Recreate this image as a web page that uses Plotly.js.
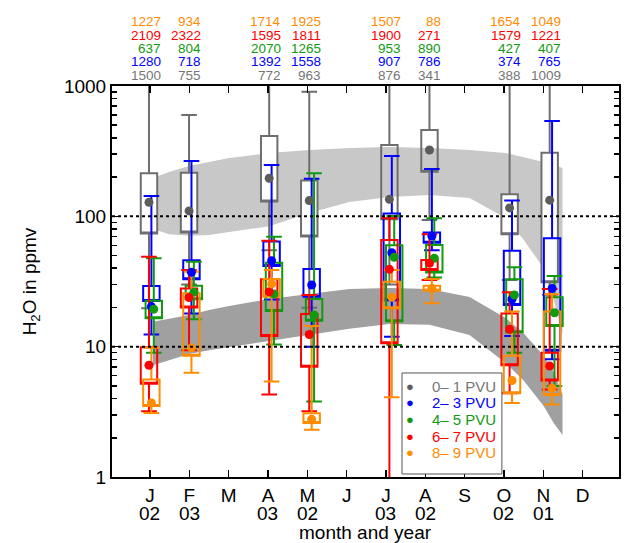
<!DOCTYPE html>
<html><head><meta charset="utf-8">
<script src="https://cdn.plot.ly/plotly-3.0.1.min.js"></script>
<style>html,body{margin:0;padding:0;background:#fff}</style>
</head><body><div id="chart" style="width:633px;height:543px"></div>
<script>
// ---------- data ----------
const months = [1, 2, 4, 5, 7, 8, 10, 11];
const tickMonths = [1,2,3,4,5,6,7,8,9,10,11,12];
const monthLetters = ['J','F','M','A','M','J','J','A','S','O','N','D'];
const tickYears = ['02','03','','03','02','','03','02','','02','01',''];
const xTitle = 'month and year';
const yTitle = 'H<sub>2</sub>O in ppmv';

const seriesNames = ['0\u2013 1 PVU','2\u2013 3 PVU','4\u2013 5 PVU','6\u2013 7 PVU','8\u2013 9 PVU'];

// counts per month (top rows)
const countsGray   = [1500, 755, 772, 963, 876, 341, 388, 1009];
const countsBlue   = [1280, 718, 1392, 1558, 907, 786, 374, 765];
const countsGreen  = [637, 804, 2070, 1265, 953, 890, 427, 407];
const countsRed    = [2109, 2322, 1595, 1811, 1900, 271, 1579, 1221];
const countsOrange = [1227, 934, 1714, 1925, 1507, 88, 1654, 1049];

// box statistics (ppmv): lower whisker, q1, q3, upper whisker, mean
const grayLo   = [19.7, 30, 55, 19.9, 30, 93.7, 32.5, 25];
const grayQ1   = [74, 75, 130, 70, 95, 220, 73, 31.2];
const grayQ3   = [214, 216, 413, 188, 353, 460, 148, 308];
const grayHi   = [3000, 600, 3000, 904, 3000, 3000, 3000, 3000];
const grayMean = [128, 110, 196, 132, 135, 323, 116, 133];

const blueLo   = [12.4, 18, 23, 10, 11.9, 55, 12.1, 8];
const blueQ1   = [22.4, 32.9, 41.6, 24.2, 22.7, 62.8, 20.9, 9.3];
const blueQ3   = [29.2, 46, 64, 39.4, 105, 75, 54.5, 67.8];
const blueHi   = [143, 266, 248, 194, 290, 231, 132, 539];
const blueMean = [20.3, 37.2, 45.7, 29.7, 52.6, 70.7, 23.1, 28];

const greenLo   = [9.0, 16.2, 10.4, 3.8, 10.3, 34, 9, 5.0];
const greenQ1   = [16.5, 23.1, 18.8, 15.8, 15.7, 37, 12.9, 14.4];
const greenQ3   = [22.5, 29.4, 44, 23.2, 60, 60.3, 32.9, 23.9];
const greenHi   = [47.7, 44.9, 69.8, 214, 100.7, 96.6, 40.6, 34.9];
const greenMean = [19.4, 26.1, 25.4, 17.5, 48.5, 47.7, 24.9, 18.2];

const redLo   = [3.2, 9.4, 4.3, 3.2, 0.3, 32.5, 4.4, 4.7];
const redQ1   = [5.2, 20, 12.1, 7.0, 10.6, 38.7, 7.2, 5.5];
const redQ3   = [9.9, 28, 32.9, 17.8, 65.8, 46.2, 18, 9];
const redHi   = [49, 38.7, 65, 24.9, 96.6, 72.8, 26.1, 27.7];
const redMean = [7.2, 23.8, 26.4, 12.4, 39.2, 43.6, 13.6, 7.1];

const orangeLo   = [3.1, 6.3, 5.4, 2.3, 4.1, 21.5, 3.7, 3.6];
const orangeQ1   = [3.5, 8.5, 24.2, 2.6, 19.7, 26.9, 4.4, 4.25];
const orangeQ3   = [5.6, 25.7, 33, 3.08, 31.5, 29.4, 8.5, 18.6];
const orangeHi   = [9.8, 37.6, 38.7, 14.4, 38.7, 33, 18.6, 25.2];
const orangeMean = [3.7, 9.8, 30.3, 2.77, 23.9, 28, 5.5, 4.8];

// shaded climatology bands
const bandX         = [1.1, 1.5, 2.0, 2.5, 3.0, 4.0, 5.0, 6.0, 7.0, 8.0, 9.0, 9.9, 10.35, 10.85, 11.1, 11.32];
const lightBandHigh = [197, 219, 243, 261, 280, 306, 323, 334, 340, 334, 323, 306, 285, 261, 248, 235];
const lightBandLow  = [80, 73, 71, 72, 76, 84, 106, 129, 141, 146, 138, 97, 66, 40, 23, 12.3];
const darkBandHigh  = [15.5, 16.3, 17.5, 19.1, 20.5, 23.2, 25.4, 27.7, 28.2, 27.7, 24.0, 16.6, 12.7, 8.5, 6.4, 4.3];
const darkBandLow   = [7.2, 7.9, 8.8, 9.4, 9.9, 11.1, 12.3, 13.7, 14.9, 14.7, 12.3, 7.5, 5.5, 3.5, 2.6, 2.1];

const minorVals = [2,3,4,5,6,7,8,9,20,30,40,50,60,70,80,90,200,300,400,500,600,700,800,900];

// ---------- styles ----------
const seriesColors = ['#6e6e6e','#0000ff','#109a10','#ff0000','#ff8c00'];
const dotColors = ['#5c5c5c','#0000ff','#109a10','#ff0000','#ff8c00'];
const textColors = ['#767676','#0000ff','#109a10','#ff0000','#ff8c00'];
const seriesOffsets = [0, 0.06, 0.12, 0, 0.06];
const grayOpaque = [true, true, true, true, false, false, true, true];

// ---------- build ----------
const boxStats = [
  [grayLo, grayQ1, grayQ3, grayHi, grayMean],
  [blueLo, blueQ1, blueQ3, blueHi, blueMean],
  [greenLo, greenQ1, greenQ3, greenHi, greenMean],
  [redLo, redQ1, redQ3, redHi, redMean],
  [orangeLo, orangeQ1, orangeQ3, orangeHi, orangeMean]
];
const countRows = [countsOrange, countsRed, countsGreen, countsBlue, countsGray];
const countRowColors = [textColors[4], textColors[3], textColors[2], textColors[1], textColors[0]];
const countRowY = [1.1637, 1.1295, 1.0954, 1.0621, 1.0271];

const traces = [];
function band(hi, lo, color) {
  return {
    type: 'scatter', mode: 'lines', xaxis: 'x', yaxis: 'y',
    x: bandX.concat(bandX.slice().reverse()),
    y: hi.concat(lo.slice().reverse()),
    fill: 'toself', fillcolor: color, line: {width: 0, color: color},
    hoverinfo: 'skip', showlegend: false
  };
}
traces.push(band(lightBandHigh, lightBandLow, '#c8c8c8'));
traces.push(band(darkBandHigh, darkBandLow, '#a0a0a0'));
traces.push({type: 'scatter', x: [6], y: [0.001], xaxis: 'x2', yaxis: 'y', mode: 'markers',
  marker: {opacity: 0}, hoverinfo: 'skip', showlegend: false});

function boxTrace(s, i, idx, fill) {
  return {
    type: 'box', xaxis: 'x3', yaxis: 'y3',
    x: idx.map(j => months[j] + seriesOffsets[i]),
    lowerfence: idx.map(j => s[0][j]), q1: idx.map(j => s[1][j]), median: idx.map(j => s[1][j]),
    q3: idx.map(j => s[2][j]), upperfence: idx.map(j => s[3][j]),
    boxpoints: false, width: 0.41, whiskerwidth: 0.95,
    line: {color: seriesColors[i], width: 2},
    fillcolor: fill, hoverinfo: 'skip', showlegend: false
  };
}
const allIdx = months.map((m, j) => j);
traces.push(boxTrace(boxStats[0], 0, allIdx.filter(j => grayOpaque[j]), '#ffffff'));
traces.push(boxTrace(boxStats[0], 0, allIdx.filter(j => !grayOpaque[j]), 'rgba(0,0,0,0)'));
for (let i = 1; i < boxStats.length; i++) traces.push(boxTrace(boxStats[i], i, allIdx, 'rgba(0,0,0,0)'));

boxStats.forEach((s, i) => {
  traces.push({
    type: 'scatter', mode: 'markers', xaxis: 'x3', yaxis: 'y3',
    x: months.map(m => m + seriesOffsets[i]), y: s[4],
    marker: {color: dotColors[i], size: 9},
    hoverinfo: 'skip', showlegend: false
  });
});

const annotations = [];
countRows.forEach((row, r) => {
  row.forEach((v, j) => {
    annotations.push({xref: 'x', yref: 'paper', x: months[j], y: countRowY[r],
      text: String(v), showarrow: false, xanchor: 'right', yanchor: 'middle', xshift: 12.7,
      borderpad: 0, font: {size: 13.5, color: countRowColors[r]}});
  });
});
tickMonths.forEach((m, k) => {
  if (tickYears[k]) annotations.push({xref: 'x2', yref: 'paper', x: m, y: -0.0921,
    text: tickYears[k], showarrow: false, xanchor: 'center', yanchor: 'middle',
    borderpad: 0, font: {size: 19, color: '#000'}});
});
annotations.push({xref: 'paper', yref: 'paper', x: 0.5, y: -0.1432, text: xTitle,
  showarrow: false, xanchor: 'center', yanchor: 'middle', borderpad: 0,
  font: {size: 19, color: '#000'}});
const legendRowY = [0.2327, 0.190, 0.1458, 0.1031, 0.0621];
seriesNames.forEach((n, i) => {
  annotations.push({xref: 'paper', yref: 'paper', x: 0.588, y: legendRowY[i], text: '\u25CF',
    showarrow: false, xanchor: 'center', yanchor: 'middle', borderpad: 0,
    font: {size: 13, color: dotColors[i]}});
  annotations.push({xref: 'paper', yref: 'paper', x: 0.629, y: legendRowY[i], text: n,
    showarrow: false, xanchor: 'left', yanchor: 'middle', borderpad: 0,
    font: {size: 15, color: textColors[i]}});
});

const shapes = [
  {type: 'line', xref: 'paper', yref: 'paper', x0: 0, x1: 1, y0: 1/3, y1: 1/3,
   line: {color: '#000', width: 2, dash: 'dot'}, layer: 'above'},
  {type: 'line', xref: 'paper', yref: 'paper', x0: 0, x1: 1, y0: 2/3, y1: 2/3,
   line: {color: '#000', width: 2, dash: 'dot'}, layer: 'above'},
  {type: 'rect', xref: 'paper', yref: 'paper', x0: 0.572, x1: 0.769, y0: 0.0077, y1: 0.266,
   fillcolor: '#ffffff', line: {color: '#555', width: 1}, layer: 'above'}
];

const layout = {
  width: 633, height: 543,
  margin: {l: 112, r: 14, t: 86, b: 66},
  paper_bgcolor: '#fff', plot_bgcolor: '#fff',
  font: {family: 'Liberation Sans, Arial, sans-serif', color: '#000'},
  showlegend: false, boxmode: 'overlay',
  xaxis: {range: [0.077, 12.73], visible: false},
  xaxis2: {overlaying: 'x', anchor: 'y', side: 'bottom', range: [0.034, 12.925],
    tickmode: 'array', tickvals: tickMonths, ticktext: monthLetters,
    ticks: 'inside', ticklen: 7, tickwidth: 1.5, tickcolor: '#000',
    showline: true, linewidth: 2, linecolor: '#000', mirror: 'ticks',
    showgrid: false, zeroline: false, tickfont: {size: 19}},
  yaxis: {type: 'log', range: [0, 3], tickmode: 'array', tickvals: [1, 10, 100, 1000],
    ticktext: ['1', '10', '100', '1000'],
    ticks: 'inside', ticklen: 9, tickwidth: 1.5, tickcolor: '#000',
    showline: true, linewidth: 2, linecolor: '#000', mirror: 'ticks',
    showgrid: false, zeroline: false, tickfont: {size: 19},
    minor: {tickvals: minorVals, ticks: 'inside', ticklen: 5, tickwidth: 1.5, tickcolor: '#000', showgrid: false},
    title: {text: yTitle, font: {size: 19}, standoff: 22}},
  xaxis3: {overlaying: 'x', anchor: 'y3', range: [0.077, 12.73], visible: false},
  yaxis3: {overlaying: 'y', anchor: 'x3', type: 'log', range: [0, 3], visible: false},
  annotations: annotations,
  shapes: shapes
};

Plotly.newPlot('chart', traces, layout, {staticPlot: true, displayModeBar: false});
</script></body></html>
